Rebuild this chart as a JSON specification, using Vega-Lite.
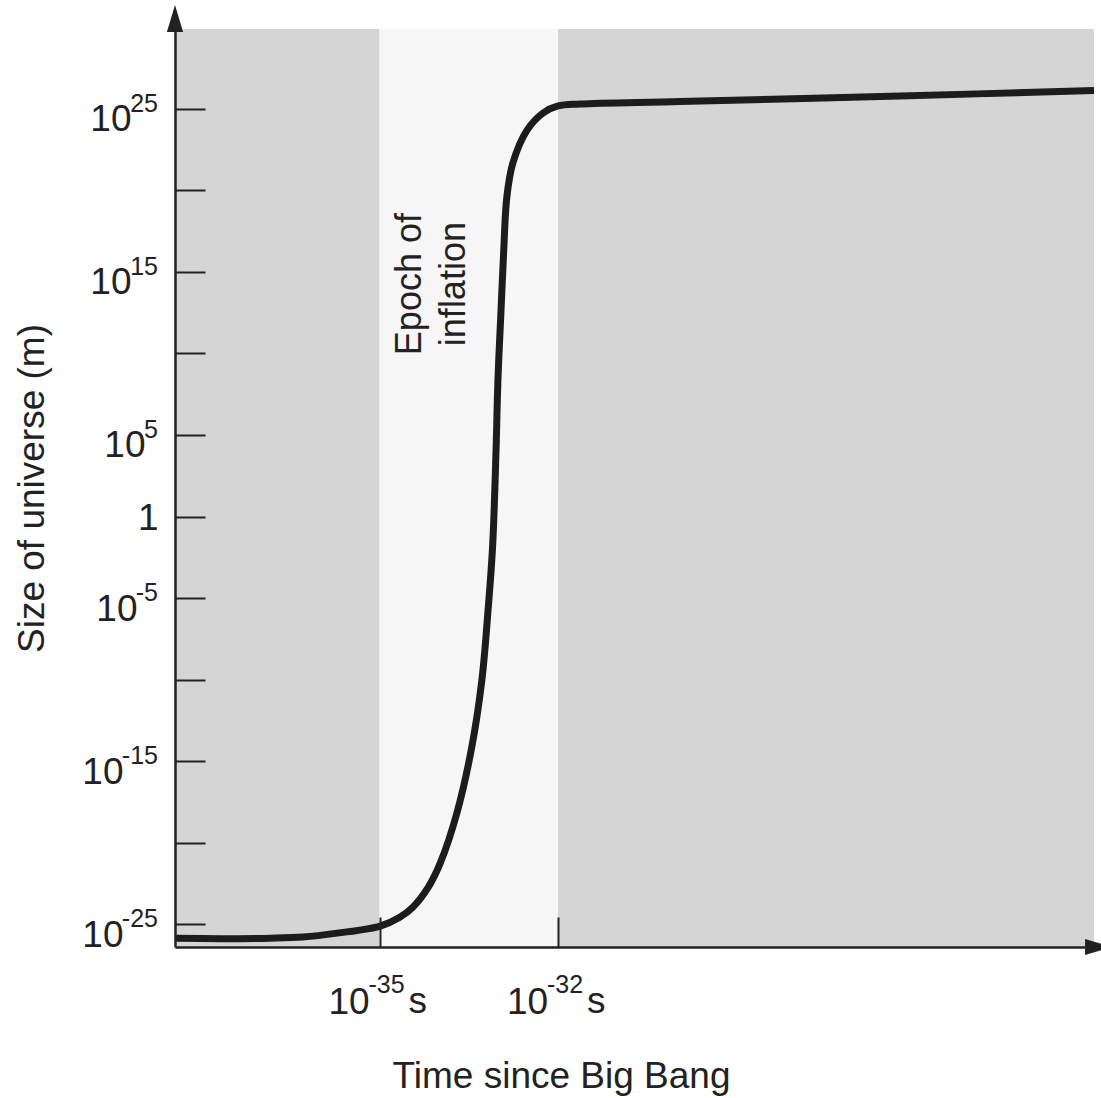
{
  "$schema": "https://vega.github.io/schema/vega-lite/v6.json",
  "width": 919,
  "height": 918,
  "autosize": {"type": "none"},
  "padding": {"left": 175, "top": 29, "right": 7, "bottom": 151},
  "background": "white",
  "config": {"view": {"stroke": null}, "font": "Liberation Sans"},
  "datasets": {
    "zones": [
      {"start": 3.65e-39, "end": 1e-35, "zone": "outside"},
      {"start": 1e-35, "end": 1e-32, "zone": "inflation"},
      {"start": 1e-32, "end": 1.02e-23, "zone": "outside"}
    ],
    "curve": [
      {"t": 3.65e-39, "size": 1.38e-26},
      {"t": 2.09e-38, "size": 1.32e-26},
      {"t": 1.445e-37, "size": 1.41e-26},
      {"t": 5.13e-37, "size": 1.66e-26},
      {"t": 1.95e-36, "size": 2.88e-26},
      {"t": 1.023e-35, "size": 7.76e-26},
      {"t": 2.19e-35, "size": 2.75e-25},
      {"t": 3.63e-35, "size": 1.12e-24},
      {"t": 6.61e-35, "size": 1.91e-23},
      {"t": 1.047e-34, "size": 5.62e-22},
      {"t": 1.995e-34, "size": 6.61e-19},
      {"t": 3.55e-34, "size": 7.24e-15},
      {"t": 5.25e-34, "size": 9.33e-11},
      {"t": 6.61e-34, "size": 1.2e-6},
      {"t": 7.94e-34, "size": 0.0135},
      {"t": 9.12e-34, "size": 1.82e4},
      {"t": 9.77e-34, "size": 2.34e8},
      {"t": 1.096e-33, "size": 2.95e12},
      {"t": 1.23e-33, "size": 3.31e16},
      {"t": 1.38e-33, "size": 3.89e19},
      {"t": 1.74e-33, "size": 4.68e21},
      {"t": 3.02e-33, "size": 4.9e23},
      {"t": 5.62e-33, "size": 5.5e24},
      {"t": 1.0e-32, "size": 1.48e25},
      {"t": 2.34e-32, "size": 1.95e25},
      {"t": 1.12e-30, "size": 2.75e25},
      {"t": 5.62e-27, "size": 6.03e25},
      {"t": 1.02e-23, "size": 1.32e26}
    ],
    "notes": [
      {"t": 3.26e-35, "size": 1.78e14, "label": ["Epoch of", "inflation"]}
    ],
    "yexp": [
      {"size": 1e25, "exp": "25"},
      {"size": 1e15, "exp": "15"},
      {"size": 1e5, "exp": "5"},
      {"size": 1e-5, "exp": "-5"},
      {"size": 1e-15, "exp": "-15"},
      {"size": 1e-25, "exp": "-25"}
    ],
    "xexp": [
      {"t": 1e-35, "exp": "-35", "unit": "s"},
      {"t": 1e-32, "exp": "-32", "unit": "s"}
    ]
  },
  "layer": [
    {
      "data": {"name": "zones"},
      "mark": {"type": "rect"},
      "encoding": {
        "x": {"field": "start", "type": "quantitative", "scale": {"type": "log", "domain": [3.65e-39, 1.02e-23], "nice": false, "zero": false}},
        "x2": {"field": "end"},
        "color": {"field": "zone", "type": "nominal", "scale": {"domain": ["outside", "inflation"], "range": ["#d5d5d5", "#f6f6f6"]}, "legend": null}
      }
    },
    {
      "data": {"name": "curve"},
      "mark": {"type": "line", "interpolate": "catmull-rom", "strokeWidth": 7, "color": "#1c1c1c", "strokeCap": "butt"},
      "encoding": {
        "x": {
          "field": "t", "type": "quantitative",
          "scale": {"type": "log", "domain": [3.65e-39, 1.02e-23], "nice": false, "zero": false},
          "axis": {
            "title": "Time since Big Bang",
            "values": [1e-35, 1e-32],
            "labelExpr": "'10'",
            "tickSize": -30, "tickWidth": 2, "tickColor": "#222",
            "domainColor": "#222", "domainWidth": 2.5,
            "labelFontSize": 37, "labelColor": "#222", "labelPadding": 96,
            "labelBaseline": "alphabetic", "labelOffset": -31,
            "labelFont": "Liberation Sans", "labelFlush": false,
            "titleFontSize": 37, "titleFontWeight": "normal", "titleColor": "#222",
            "titleFont": "Liberation Sans", "titlePadding": 38, "titleX": 386,
            "grid": false, "zindex": 1
          }
        },
        "y": {
          "field": "size", "type": "quantitative",
          "scale": {"type": "log", "domain": [4.07e-27, 7.76e29], "nice": false, "zero": false},
          "axis": {
            "title": "Size of universe (m)",
            "values": [1e25, 1e20, 1e15, 1e10, 1e5, 1, 1e-5, 1e-10, 1e-15, 1e-20, 1e-25],
            "labelExpr": "datum.value > 1e24 ? '10' : datum.value > 1e19 ? '' : datum.value > 1e14 ? '10' : datum.value > 1e9 ? '' : datum.value > 1e4 ? '10' : datum.value > 0.1 ? '1' : datum.value > 1e-6 ? '10' : datum.value > 1e-11 ? '' : datum.value > 1e-16 ? '10' : datum.value > 1e-21 ? '' : '10'",
            "tickSize": -30, "tickWidth": 2, "tickColor": "#222",
            "domainColor": "#222", "domainWidth": 2.5,
            "labelFontSize": 37, "labelColor": "#222",
            "labelPadding": {
              "condition": [
                {"test": "datum.value > 1e4 && datum.value < 1e6", "value": 60},
                {"test": "datum.value > 1e-6 && datum.value < 1e-4", "value": 68},
                {"test": "datum.value < 1e-14", "value": 82},
                {"test": "datum.value > 1e14", "value": 74}
              ],
              "value": 47
            },
            "labelBaseline": "alphabetic",
            "labelOffset": {"condition": {"test": "datum.value == 1", "value": 13}, "value": 22},
            "labelFont": "Liberation Sans", "labelFlush": false,
            "titleFontSize": 37, "titleFontWeight": "normal", "titleColor": "#222",
            "titleFont": "Liberation Sans", "titlePadding": 30,
            "grid": false, "zindex": 1
          }
        }
      }
    },
    {
      "data": {"name": "yexp"},
      "mark": {"type": "text", "align": "right", "baseline": "alphabetic", "dx": -17, "dy": 3, "fontSize": 25, "color": "#222", "font": "Liberation Sans"},
      "encoding": {
        "x": {"datum": 3.65e-39, "type": "quantitative"},
        "y": {"field": "size", "type": "quantitative"},
        "text": {"field": "exp"}
      }
    },
    {
      "data": {"name": "xexp"},
      "mark": {"type": "text", "align": "left", "baseline": "alphabetic", "dx": -11, "dy": 46, "fontSize": 25, "color": "#222", "font": "Liberation Sans"},
      "encoding": {
        "x": {"field": "t", "type": "quantitative"},
        "y": {"datum": 4.07e-27, "type": "quantitative"},
        "text": {"field": "exp"}
      }
    },
    {
      "data": {"name": "xexp"},
      "mark": {"type": "text", "align": "left", "baseline": "alphabetic", "dx": 29, "dy": 66, "fontSize": 37, "color": "#222", "font": "Liberation Sans"},
      "encoding": {
        "x": {"field": "t", "type": "quantitative"},
        "y": {"datum": 4.07e-27, "type": "quantitative"},
        "text": {"field": "unit"}
      }
    },
    {
      "data": {"name": "notes"},
      "mark": {"type": "text", "angle": 270, "align": "center", "baseline": "middle", "fontSize": 36, "lineHeight": 44, "color": "#222", "font": "Liberation Sans"},
      "encoding": {
        "x": {"field": "t", "type": "quantitative"},
        "y": {"field": "size", "type": "quantitative"},
        "text": {"field": "label"}
      }
    },
    {
      "data": {"values": [{}]},
      "mark": {"type": "point", "shape": "M 0 -1 L 0.6 1 L -0.6 1 Z", "size": 729, "filled": true, "color": "#222", "opacity": 1, "strokeWidth": 0},
      "encoding": {
        "x": {"datum": 3.65e-39, "type": "quantitative"},
        "y": {"datum": 3.39e30, "type": "quantitative"}
      }
    },
    {
      "data": {"values": [{}]},
      "mark": {"type": "point", "shape": "M 1 0 L -1 -0.6 L -1 0.6 Z", "size": 729, "filled": true, "color": "#222", "opacity": 1, "strokeWidth": 0},
      "encoding": {
        "x": {"datum": 1.216e-23, "type": "quantitative"},
        "y": {"datum": 4.07e-27, "type": "quantitative"}
      }
    }
  ]
}
